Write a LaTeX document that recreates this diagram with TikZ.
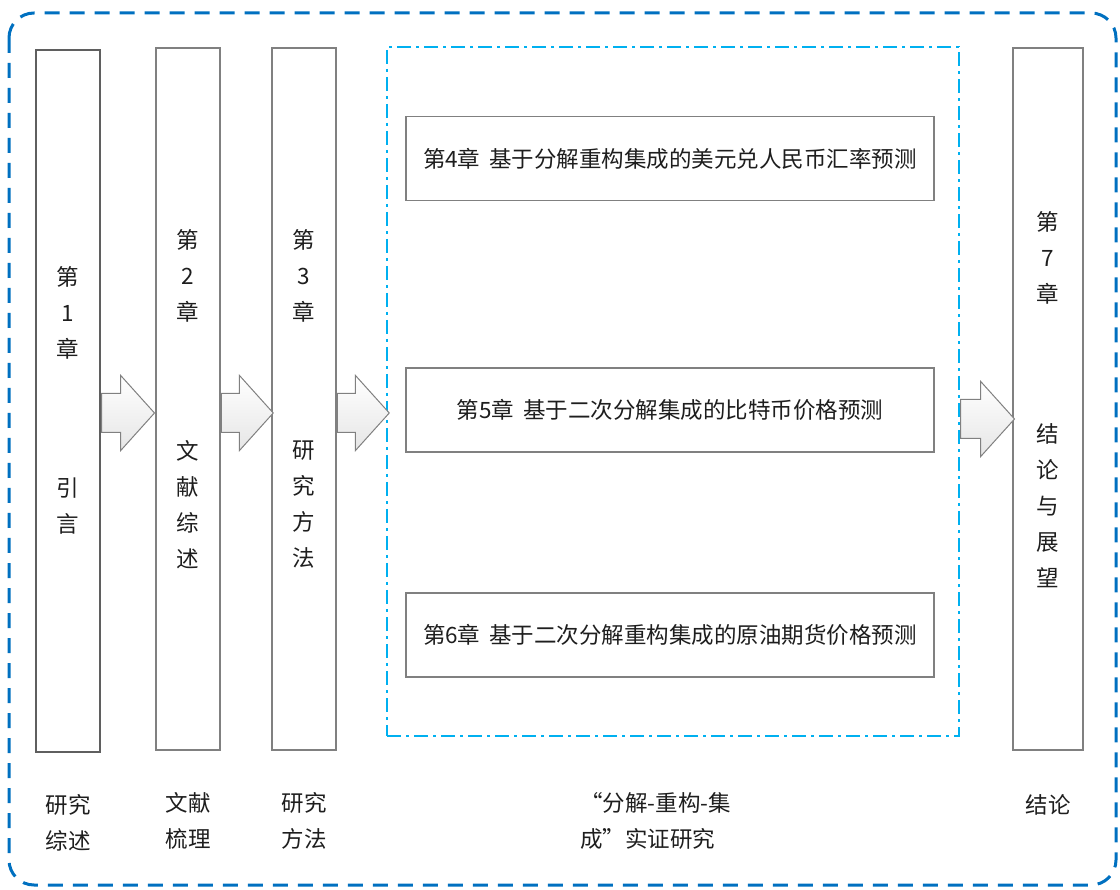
\documentclass[tikz,border=0pt]{standalone}
\usepackage{fontspec}
\setmainfont{Noto Sans CJK SC}
\usepackage{tikz}
\usetikzlibrary{arrows.meta,positioning,calc,shapes.arrows}
\definecolor{plan@blue}{RGB}{0,112,192}
\definecolor{plan@cyan}{RGB}{0,176,240}
\definecolor{plan@gray}{RGB}{128,128,128}
\definecolor{plan@dark}{RGB}{95,95,95}
\definecolor{plan@text}{RGB}{30,30,30}
\tikzset{
  plan/.style={
    x=1pt, y=-1pt,
    every node/.style={font=\fontsize{22.5}{36}\selectfont, text=plan@text}
  },
  colbox/.style={                  % tall chapter column
    draw=plan@gray, line width=1.5pt,
    fill=white,
    inner sep=0pt,
    minimum height=702pt
  },
  chapbox/.style={                 % empirical chapter box
    draw=plan@gray, line width=1.5pt,
    fill=white,
    inner sep=0pt,
    minimum width=528pt,
    minimum height=84pt
  },
  vtext/.style={align=center, inner sep=0pt},
  blockarr/.style={                % fat gray arrow between columns
    single arrow, draw=plan@gray, line width=1pt,
    top color=white, bottom color=black!10,
    inner sep=0pt, text height=38pt, text depth=0pt, text width=0pt,
    single arrow head extend=18pt,
    single arrow tip angle=96,
    anchor=tail
  },
  outerframe/.style={draw=plan@blue, line width=3pt, rounded corners=25pt,
    dash pattern=on 15pt off 10pt},
  empframe/.style={draw=plan@cyan, line width=2pt,
    dash pattern=on 14pt off 5pt on 3pt off 5pt,
    inner sep=0pt, minimum width=572pt, minimum height=689pt}
}
\begin{document}
\begin{tikzpicture}[plan]
\useasboundingbox (0,0) rectangle (1120,890);
% Outer dashed frame
\draw[outerframe] (9,13) rectangle (1116,885);

% Columns for chapters 1-3 and 7
\node[colbox, minimum width=64pt, draw=plan@dark, line width=2pt] (c1) at (68,401) {};
\node[colbox, minimum width=64pt] (c2) at (188,399) {};
\node[colbox, minimum width=64pt] (c3) at (304,399) {};
\node[colbox, minimum width=70pt] (c7) at (1048,399) {};

% Empirical part
\node[empframe] (emp) at (673,391.5) {};
\node[chapbox] (ch4) at (670,158.5)
  {第4章\hspace{0.4em}基于分解重构集成的美元兑人民币汇率预测};
\node[chapbox] (ch5) at (670,410)
  {第5章\hspace{0.4em}基于二次分解集成的比特币价格预测};
\node[chapbox] (ch6) at (670,635)
  {第6章\hspace{0.4em}基于二次分解重构集成的原油期货价格预测};

% Vertical texts inside the columns
\node[vtext] (c1top) at (c1.center |- 0,313) {第\\1\\章};
\node[vtext] (c1bot) at (c1.center |- 0,506) {引\\言};
\node[vtext] (c2top) at (c2.center |- 0,276) {第\\2\\章};
\node[vtext] (c2bot) at (c2.center |- 0,505) {文\\献\\综\\述};
\node[vtext] (c3top) at (c3.center |- 0,276) {第\\3\\章};
\node[vtext] (c3bot) at (c3.center |- 0,505) {研\\究\\方\\法};
\node[vtext] (c7top) at (c7.center |- 0,258) {第\\7\\章};
\node[vtext] (c7bot) at (c7.center |- 0,506) {结\\论\\与\\展\\望};

% Block arrows
\node[blockarr, minimum height=53pt] (a12) at ($(c1.east)+(0,12)$) {};
\node[blockarr, minimum height=52pt] (a23) at ($(c2.east)+(0,14)$) {};
\node[blockarr, minimum height=52pt] (a3e) at ($(c3.east)+(0,14)$) {};
\node[blockarr, minimum height=54pt] (ae7) at ($(emp.east |- c7.center)+(0,20)$) {};

% Captions below
\node[vtext] (cap1) at (c1.center |- 0,823) {研究\\综述};
\node[vtext] (cap2) at (c2.center |- 0,821) {文献\\梳理};
\node[vtext] (cap3) at (c3.center |- 0,821) {研究\\方法};
\node[vtext, align=left, anchor=west] (capemp) at (580,821)
  {“分解-重构-集\\成”实证研究};
\node[vtext] (cap7) at (c7.center |- 0,805) {结论};
\end{tikzpicture}
\end{document}
